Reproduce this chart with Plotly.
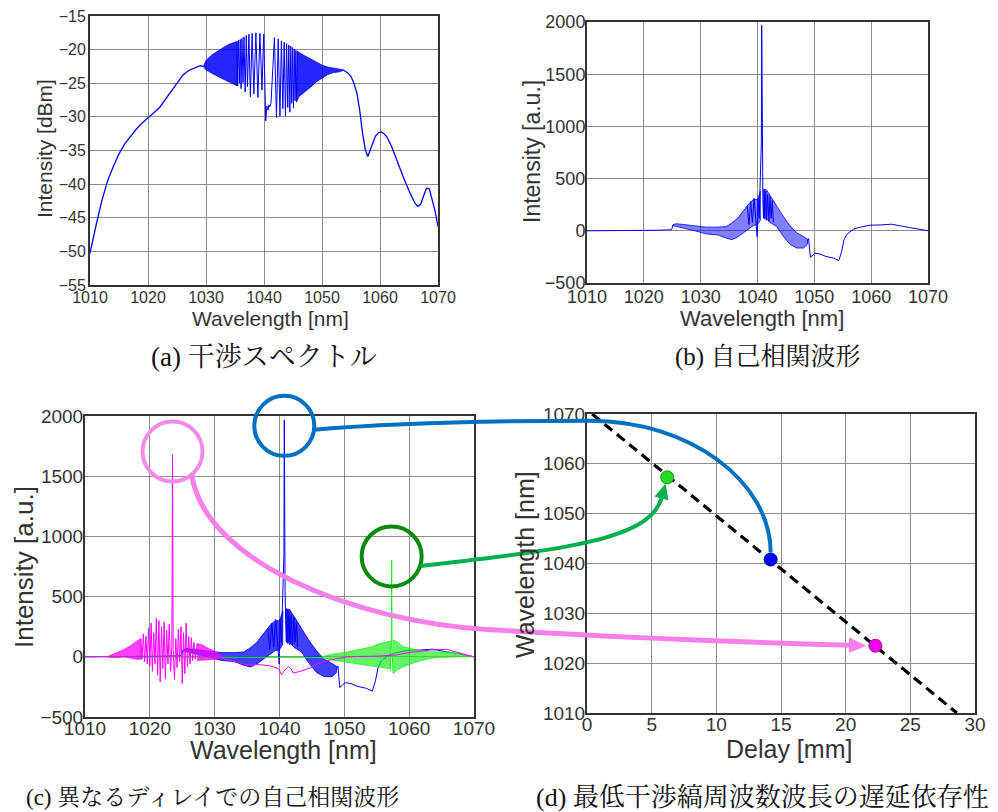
import math
import plotly.graph_objects as go

W, H = 998, 812

# ---------------- (a) interference spectrum [dBm] ----------------
a_left_wl = [1010, 1010.5, 1011, 1012, 1013, 1014, 1015, 1016, 1017, 1018, 1019, 1020,
             1021, 1022, 1023, 1024, 1025, 1026, 1027, 1028, 1029, 1029.6]
a_left_db = [-50.3, -48.2, -46.3, -42.6, -39.6, -37.4, -35.5, -34.0, -32.9, -31.8, -30.9, -30.2,
             -29.4, -28.6, -27.4, -26.1, -24.9, -23.8, -23.1, -22.7, -22.4, -22.5]

# dense fringe envelope, short-wavelength side
a_band1_wl = [1029.6, 1030, 1031, 1032, 1033, 1034, 1035, 1035.4]
a_band1_hi = [-22.4, -21.6, -20.8, -20.2, -19.7, -19.2, -18.9, -18.8]
a_band1_lo = [-22.6, -23.0, -23.5, -24.0, -24.4, -24.8, -25.2, -25.4]

# resolved fringes around the lowest fringe frequency
a_fr_wl = [1035.3, 1035.45, 1035.6, 1035.75, 1035.9, 1036.05, 1036.2, 1036.38, 1036.55, 1036.75,
           1036.95, 1037.15, 1037.4, 1037.65, 1037.95, 1038.25, 1038.6, 1038.95, 1039.3, 1039.65,
           1039.95, 1040.3, 1040.5, 1040.7, 1040.85, 1041.0, 1041.2, 1041.45, 1041.8, 1042.15,
           1042.45, 1042.75, 1043.0, 1043.25, 1043.48, 1043.7, 1043.9, 1044.1, 1044.28, 1044.46,
           1044.62, 1044.78, 1044.93, 1045.08, 1045.22, 1045.36, 1045.5, 1045.63, 1045.76]
a_fr_db = [-18.8, -25.4, -18.6, -25.0, -18.5, -25.8, -18.3, -24.9, -18.1, -26.3,
           -17.9, -25.5, -17.7, -27.0, -17.6, -26.6, -17.5, -27.1, -17.6, -26.0,
           -17.7, -30.6, -28.4, -29.0, -28.2, -28.5, -28.0, -24.0, -18.2, -30.1,
           -18.4, -29.9, -18.7, -28.8, -18.9, -29.9, -19.1, -28.6, -19.3, -29.3,
           -19.5, -28.0, -19.7, -28.7, -19.9, -27.6, -20.1, -27.8, -20.3]

# dense fringe envelope, long-wavelength side
a_band2_wl = [1045.7, 1046, 1047, 1048, 1049, 1050, 1051, 1052, 1053, 1053.6]
a_band2_hi = [-20.2, -20.4, -20.9, -21.4, -21.9, -22.3, -22.6, -22.8, -22.9, -23.0]
a_band2_lo = [-27.6, -27.0, -26.3, -25.6, -24.8, -24.2, -23.7, -23.4, -23.3, -23.1]

a_right_wl = [1053.6, 1054, 1054.5, 1055, 1055.5, 1056, 1056.5, 1057, 1057.5, 1057.9,
              1058.3, 1058.7, 1059.2, 1059.7, 1060.2, 1060.7, 1061.2, 1062, 1063, 1064,
              1065, 1066, 1066.5, 1067, 1067.5, 1068, 1068.5, 1069, 1069.5, 1070]
a_right_db = [-23.0, -23.2, -23.5, -24.0, -25.0, -26.4, -29.0, -32.5, -35.0, -35.9,
              -35.0, -33.8, -32.9, -32.4, -32.2, -32.5, -33.0, -34.4, -36.8, -38.9,
              -41.0, -42.8, -43.3, -43.0, -41.8, -40.6, -40.7, -42.3, -44.0, -46.3]

# ---------------- autocorrelation at 14.2 mm delay (blue), used in (b) and (c) ----------------
ac_left_wl = [1010, 1016, 1018, 1020, 1022, 1024, 1024.9, 1025.1]
ac_left_val = [0, 0, 3, 2, 5, 8, 10, 55]

ac_bandL_wl = [1025.1, 1025.7, 1027.0, 1029.0, 1031.0, 1033.0, 1034.5, 1035.5, 1036.5, 1037.5,
               1038.5, 1039.3, 1040.0, 1040.5]
ac_bandL_hi = [58, 68, 60, 45, 35, 35, 40, 75, 120, 190, 260, 300, 300, 380]
ac_bandL_lo = [50, 45, 25, 0, -30, -40, -70, -85, -60, -20, 20, 50, 60, 100]

ac_peak_wl = [1038.2, 1038.5, 1038.8, 1039.1, 1039.4, 1039.7, 1039.95, 1040.1, 1040.3, 1040.45,
              1040.55, 1040.62, 1040.68, 1040.74, 1040.8, 1040.86, 1040.95, 1041.05, 1041.15, 1041.3,
              1041.45, 1041.6, 1041.8, 1042.0, 1042.2, 1042.4, 1042.6, 1042.8]
ac_peak_val = [240, 60, 280, 80, 310, 90, -60, 310, 120, 420,
               650, 720, 850, 1968, 820, 560, 300, 120, 390, 110,
               380, 100, 350, 90, 330, 120, 290, 80]

ac_bandR_wl = [1041.0, 1041.6, 1042.2, 1043.4, 1044.5, 1045.7, 1046.9, 1048.1, 1048.8]
ac_bandR_hi = [400, 390, 340, 235, 140, 50, -20, -55, -80]
ac_bandR_lo = [130, 120, 80, 40, -50, -130, -165, -165, -130]

ac_right_wl = [1048.8, 1049.0, 1049.3, 1049.6, 1050.1, 1051.0, 1052.0, 1053.4, 1054.3, 1054.8,
               1055.2, 1055.7, 1056.9, 1058.1, 1059.8, 1061.6, 1063.6, 1065.1, 1067.5, 1070.0]
ac_right_val = [-100, -75, -255, -240, -215, -222, -245, -262, -285, -200,
                -90, -35, 16, 35, 54, 56, 63, 48, 22, 0]

# ---------------- autocorrelation at 22.3 mm delay (magenta) ----------------
mg_left_wl = [1010, 1012, 1013.5]
mg_left_val = [0, 0, 2]

mg_bandL_wl = [1013.5, 1014, 1015, 1016, 1017, 1018, 1018.6]
mg_bandL_hi = [2, 15, 35, 60, 90, 130, 150]
mg_bandL_lo = [-2, -5, -5, 0, -10, -20, -20]

mg_fr_wl = [1018.6, 1018.8, 1019.0, 1019.2, 1019.4, 1019.6, 1019.8, 1020.0, 1020.2, 1020.4,
            1020.6, 1020.8, 1021.0, 1021.2, 1021.4, 1021.6, 1021.8, 1022.0, 1022.2, 1022.4,
            1022.6, 1022.8, 1023.0, 1023.2, 1023.4, 1023.5, 1023.6, 1023.8, 1024.0, 1024.2,
            1024.4, 1024.6, 1024.8, 1025.0, 1025.2, 1025.4, 1025.6, 1025.8, 1026.0, 1026.2,
            1026.4, 1026.6, 1026.8, 1027.0, 1027.3]
mg_fr_val = [150, -20, 190, -40, 170, -60, 240, -80, 280, -120,
             200, -60, 320, -150, 300, -210, 250, -100, 290, -180,
             220, -60, 270, -120, 100, 1680, 60, -190, 150, -90,
             230, -40, 250, -220, 200, -140, 280, -80, 170, -60,
             160, -30, 120, -20, 110]

mg_bandR_wl = [1027.3, 1028, 1029, 1030, 1031]
mg_bandR_hi = [110, 100, 70, 45, 10]
mg_bandR_lo = [-30, -30, -25, -20, -10]

mg_right_wl = [1031, 1032.4, 1033.5, 1034.9, 1036, 1037.5, 1038.5, 1039.6, 1040.0, 1040.3,
               1040.8, 1041.4, 1041.8, 1042.1, 1043.2, 1044.7, 1046.2, 1047.8, 1049.3, 1050.4,
               1052, 1055, 1058, 1060, 1063.2, 1065.8, 1068.3, 1070]
mg_right_val = [-10, -27, -45, -65, -62, -68, -75, -93, -110, -151,
                -110, -82, -100, -135, -121, -93, -52, -27, -13, 0,
                2, 5, 15, 35, 56, 62, 24, 0]

# ---------------- autocorrelation at 6.2 mm delay (green) ----------------
gr_left_wl = [1010, 1020, 1030, 1040, 1046.5]
gr_left_val = [0, -3, -5, -6, -5]

gr_bandL_wl = [1046.5, 1048, 1050, 1052, 1054, 1055.5, 1056.5, 1057.1]
gr_bandL_hi = [0, 20, 35, 55, 80, 110, 125, 130]
gr_bandL_lo = [-8, -25, -40, -60, -75, -90, -95, -100]

gr_peak_wl = [1057.1, 1057.25, 1057.3, 1057.35, 1057.5]
gr_peak_val = [-110, 120, 800, 100, -130]

gr_bandR_wl = [1057.5, 1058.1, 1059.1, 1060.2, 1061.2, 1062.2, 1063.2, 1064.5, 1066, 1068, 1070]
gr_bandR_hi = [140, 125, 84, 70, 56, 50, 42, 40, 40, 25, 0]
gr_bandR_lo = [-140, -110, -82, -60, -41, -25, -13, -5, 0, 0, 0]

# ---------------- (d) wavelength of lowest fringe frequency vs delay ----------------
delay_mm = [6.2, 14.2, 22.3]
min_fringe_wl = [1057.3, 1040.8, 1023.5]
fit_delay = [0.4, 28.6]
fit_wl = [1070, 1010]

# ticks
wl_ticks = [1010, 1020, 1030, 1040, 1050, 1060, 1070]
a_y_ticks = [-55, -50, -45, -40, -35, -30, -25, -20, -15]
ac_y_ticks = [-500, 0, 500, 1000, 1500, 2000]
d_x_ticks = [0, 5, 10, 15, 20, 25, 30]
d_y_ticks = [1010, 1020, 1030, 1040, 1050, 1060, 1070]

# ---------------- layout geometry (pixels) ----------------
BOX = {"a": (90, 438, 16, 285), "b": (587, 928, 22, 283),
       "c": (85, 474, 416, 717), "d": (587, 975, 414, 713)}
RANGE = {"a": ((1010, 1070), (-55, -15)), "b": ((1010, 1070), (-500, 2000)),
         "c": ((1010, 1070), (-500, 2000)), "d": ((0, 30), (1010, 1070))}
AX = {"a": ("x", "y"), "b": ("x2", "y2"), "c": ("x3", "y3"), "d": ("x4", "y4")}


def to_px(panel, xv, yv):
    x0, x1, y0, y1 = BOX[panel]
    (xa, xb), (ya, yb) = RANGE[panel]
    return (x0 + (xv - xa) / (xb - xa) * (x1 - x0),
            y1 - (yv - ya) / (yb - ya) * (y1 - y0))


def pp(x, y):
    return f"{x / W:.5f},{1 - y / H:.5f}"


fig = go.Figure()


def add_line(panel, x, y, color, width=1.0):
    xa, ya = AX[panel]
    fig.add_trace(go.Scatter(x=x, y=y, mode="lines", xaxis=xa, yaxis=ya,
                             line=dict(color=color, width=width), hoverinfo="skip"))


def add_band(panel, x, hi, lo, color, fill):
    xa, ya = AX[panel]
    fig.add_trace(go.Scatter(x=list(x) + list(x)[::-1], y=list(hi) + list(lo)[::-1],
                             mode="lines", fill="toself", fillcolor=fill,
                             xaxis=xa, yaxis=ya, line=dict(color=color, width=0.8),
                             hoverinfo="skip"))


BLUE = "#0000FF"
MAG = "#FF00FF"
LIME = "#22EE22"

# (a)
add_line("a", a_left_wl, a_left_db, BLUE, 1.3)
add_band("a", a_band1_wl, a_band1_hi, a_band1_lo, BLUE, "rgba(0,0,255,0.85)")
add_line("a", a_fr_wl, a_fr_db, BLUE, 1.0)
add_band("a", a_band2_wl, a_band2_hi, a_band2_lo, BLUE, "rgba(0,0,255,0.85)")
add_line("a", a_right_wl, a_right_db, BLUE, 1.3)


def add_autocorr(panel, fill):
    add_line(panel, ac_left_wl, ac_left_val, BLUE, 1.0)
    add_band(panel, ac_bandL_wl, ac_bandL_hi, ac_bandL_lo, BLUE, fill)
    add_band(panel, ac_bandR_wl, ac_bandR_hi, ac_bandR_lo, BLUE, fill)
    add_line(panel, ac_peak_wl, ac_peak_val, BLUE, 1.0)
    add_line(panel, ac_right_wl, ac_right_val, BLUE, 1.0)


# (b)
add_autocorr("b", "rgba(0,0,255,0.5)")

# (c)
add_autocorr("c", "rgba(0,0,255,0.75)")
add_line("c", gr_left_wl, gr_left_val, LIME, 1.0)
add_band("c", gr_bandL_wl, gr_bandL_hi, gr_bandL_lo, LIME, "rgba(34,238,34,0.7)")
add_line("c", gr_peak_wl, gr_peak_val, LIME, 1.0)
add_band("c", gr_bandR_wl, gr_bandR_hi, gr_bandR_lo, LIME, "rgba(34,238,34,0.7)")
add_line("c", mg_left_wl, mg_left_val, MAG, 1.0)
add_band("c", mg_bandL_wl, mg_bandL_hi, mg_bandL_lo, MAG, "rgba(255,0,255,0.75)")
add_line("c", mg_fr_wl, mg_fr_val, MAG, 1.0)
add_band("c", mg_bandR_wl, mg_bandR_hi, mg_bandR_lo, MAG, "rgba(255,0,255,0.75)")
add_line("c", mg_right_wl, mg_right_val, MAG, 1.0)

# (d)
fig.add_trace(go.Scatter(x=fit_delay, y=fit_wl, mode="lines", xaxis="x4", yaxis="y4",
                         line=dict(color="black", width=3.2, dash="10px,6px"),
                         hoverinfo="skip"))
dot_fill = ["#22DD22", "#0000FF", "#EE00EE"]
dot_edge = ["#119911", "#0000AA", "#AA00AA"]
fig.add_trace(go.Scatter(x=delay_mm, y=min_fringe_wl, mode="markers", xaxis="x4", yaxis="y4",
                         marker=dict(size=13, color=dot_fill,
                                     line=dict(color=dot_edge, width=1)),
                         hoverinfo="skip"))

# ---------------- axes ----------------
TICK_FONT = "Liberation Sans, Arial, sans-serif"


def axis_style(panel, which, ticks, size, standoff):
    x0, x1, y0, y1 = BOX[panel]
    rng = RANGE[panel][0 if which == "x" else 1]
    dom = [x0 / W, x1 / W] if which == "x" else [1 - y1 / H, 1 - y0 / H]
    other = AX[panel][1 if which == "x" else 0]
    return dict(domain=dom, range=list(rng), anchor=other, tickvals=ticks,
                automargin=False, ticklabelstandoff=standoff,
                showline=True, linecolor="#333333", linewidth=2, mirror=True,
                showgrid=True, gridcolor="#8c8c8c", gridwidth=1, zeroline=False,
                ticks="", tickfont=dict(family=TICK_FONT, size=size, color="#333333"),
                fixedrange=True)


fig.update_layout(
    width=W, height=H, margin=dict(l=0, r=0, t=0, b=0, autoexpand=False),
    paper_bgcolor="white", plot_bgcolor="white", showlegend=False,
    xaxis=axis_style("a", "x", wl_ticks, 16, -3), yaxis=axis_style("a", "y", a_y_ticks, 16, -1),
    xaxis2=axis_style("b", "x", wl_ticks, 18, -4), yaxis2=axis_style("b", "y", ac_y_ticks, 18, -4),
    xaxis3=axis_style("c", "x", wl_ticks, 19, -7), yaxis3=axis_style("c", "y", ac_y_ticks, 19, -4),
    xaxis4=axis_style("d", "x", d_x_ticks, 19, -7), yaxis4=axis_style("d", "y", d_y_ticks, 19, -4),
)

# ---------------- axis titles and captions ----------------
TITLE_FONT = "Liberation Sans, Arial, sans-serif"
CAP_FONT = "Liberation Serif, Noto Serif CJK JP, Noto Sans CJK JP, serif"
titles = [
    ("Wavelength [nm]", 270, 319, 0, 21),
    ("Intensity [dBm]", 44, 149, -90, 21),
    ("Wavelength [nm]", 762, 319, 0, 22),
    ("Intensity [a.u.]", 532, 152, -90, 23),
    ("Wavelength [nm]", 283, 750, 0, 25),
    ("Intensity [a.u.]", 24, 567, -90, 26),
    ("Delay [mm]", 789, 749, 0, 25),
    ("Wavelength [nm]", 525, 565, -90, 25),
]
for text, x, y, ang, size in titles:
    fig.add_annotation(text=text, x=x / W, y=1 - y / H, xref="paper", yref="paper",
                       showarrow=False, textangle=ang, xanchor="center", yanchor="middle",
                       font=dict(family=TITLE_FONT, size=size, color="#333333"))

captions = [
    ("(a) 干渉スペクトル", 264, 357, 27),
    ("(b) 自己相関波形", 767, 357, 25),
    ("(c) 異なるディレイでの自己相関波形", 212, 797, 23),
    ("(d) 最低干渉縞周波数波長の遅延依存性", 762, 797, 26),
]
for text, x, y, size in captions:
    fig.add_annotation(text=text, x=x / W, y=1 - y / H, xref="paper", yref="paper",
                       showarrow=False, xanchor="center", yanchor="middle",
                       font=dict(family=CAP_FONT, size=size, color="#111111"))

# ---------------- circles around the autocorrelation peaks and connectors ----------------
R = 30
peaks = [  # wavelength, height, circle colour, connector colour, vertical nudge (px)
    (gr_peak_wl[gr_peak_val.index(max(gr_peak_val))], max(gr_peak_val), "#0A8A0A", "#00B050", -4),
    (ac_peak_wl[ac_peak_val.index(max(ac_peak_val))], max(ac_peak_val), "#0070C0", "#0070C0", 6),
    (mg_fr_wl[mg_fr_val.index(max(mg_fr_val))], max(mg_fr_val), "#F58AE8", "#F77FEA", -3),
]
centers = []
for wl, h, ccol, _, dy in peaks:
    cx, cy = to_px("c", wl, h)
    cy += dy
    centers.append((cx, cy))
    fig.add_shape(type="circle", xref="paper", yref="paper",
                  x0=(cx - R) / W, x1=(cx + R) / W, y0=1 - (cy + R) / H, y1=1 - (cy - R) / H,
                  line=dict(color=ccol, width=4), layer="above")

dots = [to_px("d", d, w) for d, w in zip(delay_mm, min_fringe_wl)]


def arrow_head(tip, frm, length, half, color):
    ux, uy = tip[0] - frm[0], tip[1] - frm[1]
    n = math.hypot(ux, uy)
    ux, uy = ux / n, uy / n
    bx, by = tip[0] - ux * length, tip[1] - uy * length
    p1 = (bx - uy * half, by + ux * half)
    p2 = (bx + uy * half, by - ux * half)
    fig.add_shape(type="path", xref="paper", yref="paper",
                  path=f"M {pp(*tip)} L {pp(*p1)} L {pp(*p2)} Z",
                  fillcolor=color, line=dict(color=color, width=1), layer="above")
    return (bx, by), (ux, uy)


# green: 6.2 mm
(gcx, gcy), (gx, gy) = centers[0], dots[0]
s = (gcx + R * 0.95, gcy + R * 0.32)
c1 = (s[0] + 139, s[1] - 16)
c2 = (gx - 17, gy + 63)
ux, uy = gx - c2[0], gy - c2[1]
nrm = math.hypot(ux, uy)
tip = (gx - ux / nrm * 7.5, gy - uy / nrm * 7.5)
base, _ = arrow_head(tip, c2, 14, 6.5, peaks[0][3])
fig.add_shape(type="path", xref="paper", yref="paper", layer="above",
              path=f"M {pp(*s)} C {pp(*c1)} {pp(*c2)} {pp(*base)}",
              line=dict(color=peaks[0][3], width=4))

# blue: 14.2 mm
(bcx, bcy), (bx_, by_) = centers[1], dots[1]
s = (bcx + R * 0.99, bcy + R * 0.13)
flat = s[1] - 9
fig.add_shape(type="path", xref="paper", yref="paper", layer="above",
              path=(f"M {pp(*s)} C {pp(s[0] + 84, s[1] - 7)} {pp(s[0] + 164, flat)} "
                    f"{pp(bx_ - 180, flat)} C {pp(bx_ - 81, flat)} {pp(bx_, by_ - 78)} "
                    f"{pp(bx_, by_ - 7)}"),
              line=dict(color=peaks[1][3], width=4))

# magenta: 22.3 mm
(mcx, mcy), (mx, my) = centers[2], dots[2]
s = (mcx + R * 0.64, mcy + R * 0.77)
mid = (mx - 385, my - 16)
c4 = (mid[0] + 270, my - 3)
tip = (mx - 10, my)
base, _ = arrow_head(tip, c4, 16, 7, peaks[2][3])
fig.add_shape(type="path", xref="paper", yref="paper", layer="above",
              path=(f"M {pp(*s)} C {pp(s[0] + 12, s[1] + 85)} {pp(mid[0] - 140, mid[1] - 8)} "
                    f"{pp(*mid)} C {pp(mid[0] + 130, mid[1] + 8)} {pp(*c4)} {pp(*base)}"),
              line=dict(color=peaks[2][3], width=5))

fig.write_html("out.html")
